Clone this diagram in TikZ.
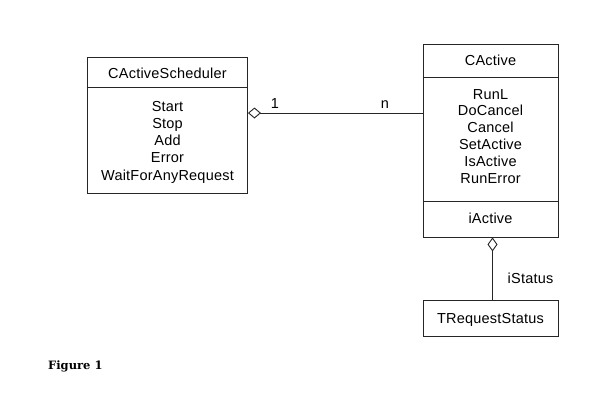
\documentclass[tikz,border=0pt]{standalone}
\usepackage{fontspec}
\setmainfont{Liberation Sans}[LetterSpace=1.5]
\newfontfamily\captionserif{DejaVu Serif}
\usetikzlibrary{arrows.meta}
\begin{document}
\begin{tikzpicture}[x=1pt,y=-1pt,
  classbox/.style={draw=black!85, line width=0.9pt, fill=white, inner sep=0pt},
  rule/.style={draw=black!85, line width=0.9pt},
  member/.style={font=\fontsize{14.5}{17}\selectfont, inner sep=0pt, anchor=base},
  assoc/.style={draw=black!85, line width=0.9pt},
  aggr/.style={{Diamond[open,length=13pt,width=11pt,line width=0.9pt]}-},
  aggrv/.style={{Diamond[open,length=14pt,width=10pt,line width=0.9pt]}-}]
% page
\path[fill=white,use as bounding box] (0,0) rectangle (596,396);

% class CActiveScheduler
\node[classbox, minimum width=160.5pt, minimum height=136pt] (sched) at (167.25,125) {};
\draw[rule] (sched.west |- 0,87) -- (sched.east |- 0,87);
\node[member] (schedname) at (167.5,78) {CActiveScheduler};
\foreach \txt/\yy [count=\i] in {Start/111, Stop/128.3, Add/145.6, Error/162.9, WaitForAnyRequest/180.2}
  \node[member] (schedop\i) at (167.5,\yy) {\txt};

% class CActive
\node[classbox, minimum width=135pt, minimum height=193pt] (active) at (490.5,140.5) {};
\draw[rule] (active.west |- 0,77) -- (active.east |- 0,77);
\draw[rule] (active.west |- 0,201) -- (active.east |- 0,201);
\node[member] (activename) at (490.5,65) {CActive};
\foreach \txt/\yy [count=\i] in {RunL/99, DoCancel/115.8, Cancel/132.6, SetActive/149.4, IsActive/166.2, RunError/183}
  \node[member] (activeop\i) at (490.5,\yy) {\txt};
\node[member] (activeattr) at (490.5,223) {iActive};

% class TRequestStatus
\node[classbox, minimum width=135pt, minimum height=36pt] (status) at (490.5,318) {};
\node[member] (statusname) at (490.5,323) {TRequestStatus};

% scheduler 1 -- n active objects
\draw[assoc, aggr] (sched.east |- 0,113) -- (active.west |- 0,113);
\node[member] (mult1) at (275,108) {1};
\node[member] (multn) at (385,108) {n};

% active object owns its request status
\draw[assoc, aggrv] (active.south -| 492.5,0) -- (status.north -| 492.5,0);
\node[member] (rolename) at (530.5,283) {iStatus};

% caption
\node[font=\captionserif\bfseries\fontsize{11.5}{13}\selectfont, inner sep=0pt, anchor=base west] (caption) at (48,369) {Figure 1};
\end{tikzpicture}
\end{document}
